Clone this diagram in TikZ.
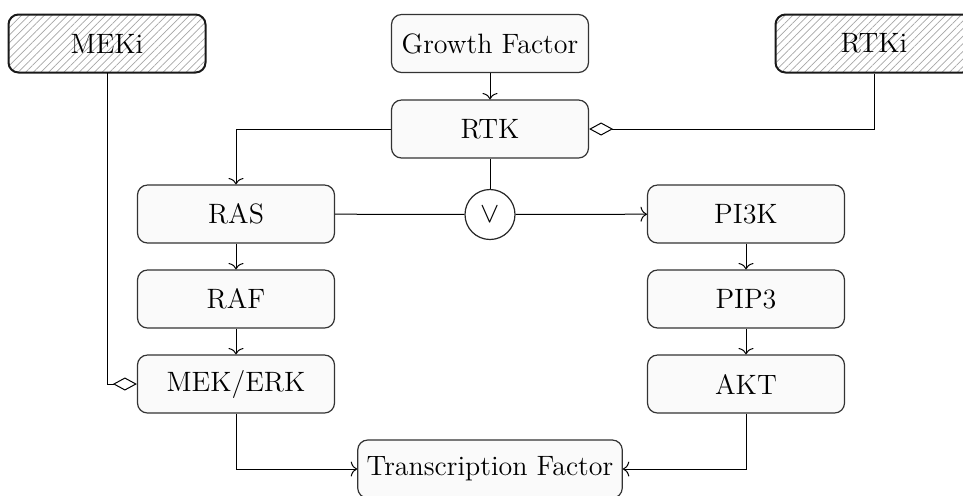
\documentclass[tikz,border=0pt]{standalone}
\usetikzlibrary{arrows.meta,patterns.meta}

\begin{document}
\begin{tikzpicture}[x=0.5pt,y=-0.5pt,
  every node/.style={font=\fontsize{14}{17}\selectfont},
  box/.style={draw=black!80, line width=0.6pt, rounded corners=5pt,
    fill=black!2, minimum width=98.5pt, minimum height=29pt, inner sep=3pt},
  drugbox/.style={box, line width=1pt, draw=black!90,
    pattern={Lines[angle=45,distance=2.7pt,line width=0.35pt]},
    pattern color=black!35},
  gate/.style={circle, draw=black!85, line width=0.6pt, fill=white,
    minimum size=25pt, inner sep=0pt},
  link/.style={line width=0.5pt},
  act/.style={link, -{To[length=3.2pt,width=7.5pt]}},
  inhib/.style={link, -{Diamond[open,length=12pt,width=6.5pt]}}]

\useasboundingbox (0,0) rectangle (963,495);

% inhibitors and ligand
\node[drugbox] (meki) at (107,43.5) {MEKi};
\node[box]     (gf)   at (490,43.5) {Growth Factor};
\node[drugbox] (rtki) at (874,43.5) {RTKi};

% receptor
\node[box] (rtk) at (490,129) {RTK};

% MAPK branch
\node[box] (ras) at (236,214) {RAS};
\node[box] (raf) at (236,299) {RAF};
\node[box] (mek) at (236,384) {MEK/ERK};

% PI3K branch
\node[box] (pik) at (746,214) {PI3K};
\node[box] (pip) at (746,299) {PIP3};
\node[box] (akt) at (746,384) {AKT};

% branch junction
\node[gate] (or) at (490,214.5) {$\vee$};

% target
\node[box, minimum width=0pt, inner xsep=4.5pt] (tf) at (490,469) {Transcription Factor};

% connectors
\draw[act] (gf) -- (rtk);
\draw[act] (rtk.west) -| (ras.north);
\draw[link] (rtk) -- (or);
\draw[link] (ras) -- (or);
\draw[act] (or) -- (pik);
\draw[act] (ras) -- (raf);
\draw[act] (raf) -- (mek);
\draw[act] (pik) -- (pip);
\draw[act] (pip) -- (akt);
\draw[inhib] (meki.south) |- (mek.west);
\draw[inhib] (rtki.south) |- (rtk.east);
\draw[act] (mek.south) |- (tf.west);
\draw[act] (akt.south) |- (tf.east);
\end{tikzpicture}
\end{document}
